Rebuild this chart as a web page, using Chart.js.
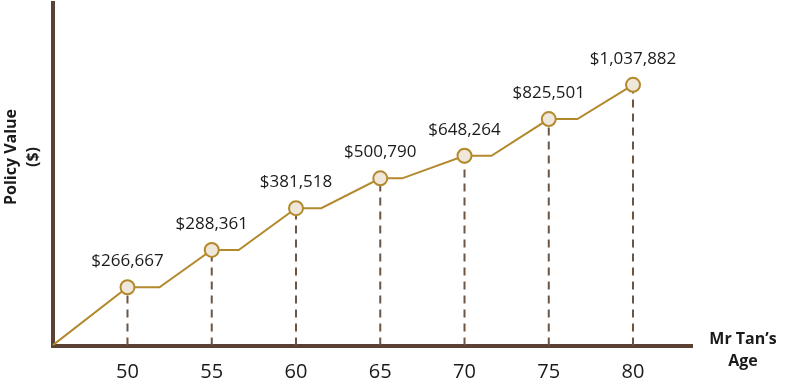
<!DOCTYPE html>
<html>
<head>
<meta charset="utf-8">
<script src="https://cdn.jsdelivr.net/npm/chart.js"></script>
<style>
    html, body { margin: 0; padding: 0; background: #fff; }
    #wrap { width: 800px; height: 387px; }
</style>
</head>
<body>
<div id="wrap"><canvas id="policyChart"></canvas></div>
<script>
// Ages shown on the x axis
const ages = [50, 55, 60, 65, 70, 75, 80];
// Policy values printed above each point
const policyValues = [266667, 288361, 381518, 500790, 648264, 825501, 1037882];
// Drawn height of each point on the (unlabelled) y axis, 0-100
const plotLevels = [17.0, 27.9, 40.1, 48.8, 55.4, 66.1, 76.1];
// Age where each flat part of the line ends
const holdUntil = [51.9, 56.6, 61.5, 66.3, 71.6, 76.7];
// Tick labels on the x axis
const ageTicks = [50, 55, 60, 65, 70, 75, 80];
const startAge = 45.55;
const endAge = 83.5;

const GOLD = '#b3892c';
const AXIS = '#5b4034';

/**
 * Build the stepped line: rise to each point, stay flat, rise again
 */
function buildLine() {
    const pts = [{ x: startAge, y: 0 }];
    ages.forEach((age, i) => {
        pts.push({ x: age, y: plotLevels[i] });
        if (i < holdUntil.length) {
            pts.push({ x: holdUntil[i], y: plotLevels[i] });
        }
    });
    return pts;
}

/**
 * Format a number as $1,234,567
 */
function formatMoney(v) {
    return '$' + v.toLocaleString('en-US');
}

// Dashed drop lines from each point down to the axis
const dropLines = ages.map((age, i) => ({
    type: 'line',
    data: [{ x: age, y: 0 }, { x: age, y: plotLevels[i] }],
    borderColor: '#6b5646',
    borderWidth: 2,
    borderDash: [8, 6],
    pointRadius: 0,
    order: 3
}));

// Value labels and axis titles
const labelPlugin = {
    id: 'labels',
    afterDatasetsDraw(chart) {
        const ctx = chart.ctx;
        const meta = chart.getDatasetMeta(chart.data.datasets.length - 1);
        ctx.save();
        ctx.fillStyle = '#1a1a1a';
        ctx.font = '17px "Open Sans"';
        ctx.textAlign = 'center';
        ctx.textBaseline = 'middle';
        meta.data.forEach((pt, i) => {
            ctx.fillText(formatMoney(policyValues[i]), pt.x, pt.y - 26);
        });

        ctx.font = 'bold 16px "Open Sans"';
        ctx.fillText('Mr Tan\u2019s', 743, 339);
        ctx.fillText('Age', 743, 361);

        ctx.translate(22, 157);
        ctx.rotate(-Math.PI / 2);
        ctx.fillText('Policy Value', 0, -11);
        ctx.fillText('($)', 0, 11);
        ctx.restore();
    }
};

const ctx = document.getElementById('policyChart').getContext('2d');
new Chart(ctx, {
    type: 'line',
    data: {
        datasets: [
            ...dropLines,
            {
                data: buildLine(),
                borderColor: GOLD,
                borderWidth: 2,
                pointRadius: 0,
                tension: 0,
                order: 2
            },
            {
                data: ages.map((age, i) => ({ x: age, y: plotLevels[i] })),
                showLine: false,
                pointRadius: 7,
                pointBackgroundColor: '#efe8da',
                pointBorderColor: GOLD,
                pointBorderWidth: 2,
                order: 1
            }
        ]
    },
    options: {
        responsive: true,
        maintainAspectRatio: false,
        animation: false,
        layout: { autoPadding: false, padding: { top: 3, right: 108, left: 0, bottom: 0 } },
        plugins: {
            legend: { display: false },
            tooltip: { enabled: false }
        },
        scales: {
            x: {
                type: 'linear',
                min: startAge,
                max: endAge,
                afterBuildTicks: axis => {
                    axis.ticks = ageTicks.map(v => ({ value: v }));
                },
                afterFit: s => { s.height = 41.5; },
                grid: { display: false, drawTicks: false },
                border: { display: true, color: AXIS, width: 4 },
                ticks: {
                    color: '#1a1a1a',
                    font: { family: 'Open Sans', size: 20 },
                    padding: 15,
                    maxRotation: 0,
                    autoSkip: false
                }
            },
            y: {
                min: 0,
                max: 100,
                afterFit: s => { s.width = 52.5; },
                grid: { display: false, drawTicks: false },
                border: { display: true, color: AXIS, width: 4 },
                ticks: { display: false }
            }
        }
    },
    plugins: [labelPlugin]
});
</script>
</body>
</html>
